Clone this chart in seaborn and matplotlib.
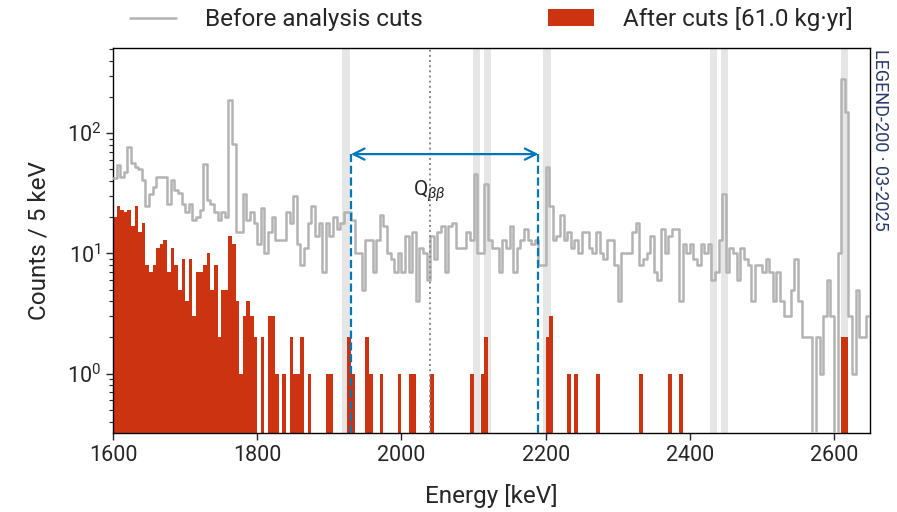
import numpy as np
import matplotlib
matplotlib.use('Agg')
import matplotlib.pyplot as plt
from matplotlib.lines import Line2D
from matplotlib.patches import Patch
import seaborn as sns

# 5 keV bins from 1600 to 2650 keV
bin_lo = 1600
bin_hi = 2650
bin_width = 5

# counts per 5 keV bin, before analysis cuts (210 bins)
before_counts = [
    42, 54, 43, 48, 77, 56, 52, 50, 41, 25,
    31, 36, 43, 43, 43, 26, 41, 34, 32, 26,
    22, 26, 19, 20, 23, 55, 28, 26, 22, 19,
    22, 20, 188, 81, 15, 15, 31, 19, 22, 18,
    12, 24, 10, 15, 20, 13, 13, 13, 22, 18,
    30, 12, 8, 11, 18, 25, 14, 18, 7, 18,
    14, 20, 16, 18, 22, 22, 19, 10, 10, 5,
    13, 13, 7, 13, 21, 17, 10, 9, 7, 10,
    7, 14, 7, 15, 4, 11, 10, 6, 14, 9,
    15, 17, 7, 17, 18, 11, 11, 11, 15, 13,
    46, 10, 10, 38, 13, 11, 11, 7, 13, 11,
    17, 7, 11, 13, 16, 13, 12, 13, 8, 8,
    52, 25, 13, 14, 21, 13, 15, 11, 13, 10,
    15, 15, 11, 10, 15, 10, 9, 13, 13, 8,
    4, 10, 10, 10, 15, 18, 8, 9, 10, 14,
    7, 6, 16, 10, 14, 16, 16, 4, 12, 10,
    12, 9, 8, 12, 10, 12, 6, 7, 13, 31,
    7, 11, 10, 6, 11, 9, 8, 4, 8, 8,
    7, 9, 7, 4, 7, 4, 3, 3, 5, 9,
    4, 2, 2, 2, 0, 2, 1, 3, 6, 3,
    0, 10, 285, 150, 3, 1, 5, 2, 2, 3,
]

# counts per 5 keV bin, after cuts (61.0 kg yr)
after_counts = [
    20, 25, 23, 22, 23, 17, 25, 15, 18, 8,
    7, 8, 11, 12, 13, 7, 11, 8, 5, 9,
    4, 9, 3, 7, 7, 8, 10, 5, 8, 2,
    5, 5, 14, 12, 4, 1, 3, 4, 3, 2,
    0, 2, 0, 3, 3, 1, 0, 1, 0, 2,
    1, 1, 2, 0, 1, 0, 0, 0, 0, 1,
    1, 0, 0, 0, 0, 2, 1, 0, 0, 0,
    2, 1, 0, 0, 1, 0, 0, 0, 0, 1,
    0, 0, 1, 1, 0, 0, 0, 0, 1, 0,
    0, 0, 0, 0, 0, 0, 0, 0, 0, 1,
    0, 0, 1, 2, 0, 0, 0, 0, 0, 0,
    0, 0, 0, 0, 0, 0, 0, 0, 0, 0,
    2, 3, 0, 0, 0, 0, 1, 0, 1, 0,
    0, 0, 0, 0, 1, 0, 0, 0, 0, 0,
    0, 0, 0, 0, 0, 0, 1, 0, 0, 0,
    0, 0, 0, 0, 1, 0, 0, 1, 0, 0,
    0, 0, 0, 0, 0, 0, 0, 0, 0, 0,
    0, 0, 0, 0, 0, 0, 0, 0, 0, 0,
    0, 0, 0, 0, 0, 0, 0, 0, 0, 0,
    0, 0, 0, 0, 0, 0, 0, 0, 0, 0,
    0, 0, 2, 2, 0, 0, 0, 0, 0, 0,
]

# excluded gamma-line regions (centre, keV), +-5 keV
gamma_lines = [1923, 2104, 2119, 2202, 2433, 2448, 2615]
line_half_width = 5

# background window and Q-value
bkg_window = (1930, 2190)
q_bb = 2039

x_ticks = [1600, 1800, 2000, 2200, 2400, 2600]

c_before = '#b3b3b3'
c_after = '#cc3311'
c_window = '#0077bb'

sns.set_theme(style='ticks')
plt.rcParams['font.family'] = ['Roboto', 'DejaVu Sans']
plt.rcParams['mathtext.fontset'] = 'custom'
plt.rcParams['mathtext.rm'] = 'Roboto'
plt.rcParams['mathtext.it'] = 'Roboto:italic'

edges = list(range(bin_lo, bin_hi + bin_width, bin_width))
centers = [e + bin_width / 2 for e in edges[:-1]]

fig = plt.figure(figsize=(8.97, 5.12), dpi=100)
ax = fig.add_axes([0.126, 0.154, 0.844, 0.752])

for e in gamma_lines:
    ax.axvspan(e - line_half_width, e + line_half_width, color='#e6e6e6', lw=0, zorder=0)

sns.histplot(x=centers, weights=after_counts, bins=edges, element='bars', fill=True,
             color=c_after, alpha=1, linewidth=0, ax=ax, zorder=2)
sns.histplot(x=centers, weights=before_counts, bins=edges, element='step', fill=False,
             color=c_before, linewidth=1.8, ax=ax, zorder=3)

ax.set_yscale('log')
ax.set_xlim(bin_lo, bin_hi)
ax.set_ylim(0.32, 510)

# Q-value marker
ax.axvline(q_bb, color='#888888', ls=':', lw=1.4, zorder=4)
ax.text(q_bb, 33, r'Q$_{\beta\beta}$', ha='center', va='center', fontsize=15, zorder=5)

# background window
top = 67
for e in bkg_window:
    ax.plot([e, e], [0.32, top], color=c_window, ls='--', lw=1.6, zorder=5)
ax.annotate('', xy=(bkg_window[0], top), xytext=(bkg_window[1], top),
            arrowprops=dict(arrowstyle='<->', color=c_window, lw=1.6,
                            shrinkA=0, shrinkB=0, mutation_scale=20), zorder=5)

ax.set_xticks(x_ticks)
ax.set_xlabel('Energy [keV]', fontsize=17.5, labelpad=13)
ax.set_ylabel('Counts / 5 keV', fontsize=17.5, labelpad=12)
ax.tick_params(axis='both', which='major', labelsize=15.5, direction='out', length=5, width=1)
ax.tick_params(axis='y', which='minor', direction='out', length=3, width=0.8, left=True)
for sp in ax.spines.values():
    sp.set_color('black')
    sp.set_linewidth(1.0)

handles = [Line2D([], [], color=c_before, lw=1.8),
           Patch(facecolor=c_after, edgecolor='none')]
labels = ['Before analysis cuts', 'After cuts [61.0 kg\u00b7yr]']
ax.legend(handles, labels, loc='lower left', bbox_to_anchor=(0, 1.0, 1, 0.1), ncol=2,
          mode='expand', frameon=False, fontsize=17.5, handlelength=1.9, handletextpad=1.2,
          borderaxespad=0.3)

fig.text(0.981, 0.905, 'LEGEND-200 \u00b7 03-2025', rotation=-90, ha='center', va='top',
         fontsize=13, color='#2b3a67')

fig.savefig('out.png', dpi=100)
